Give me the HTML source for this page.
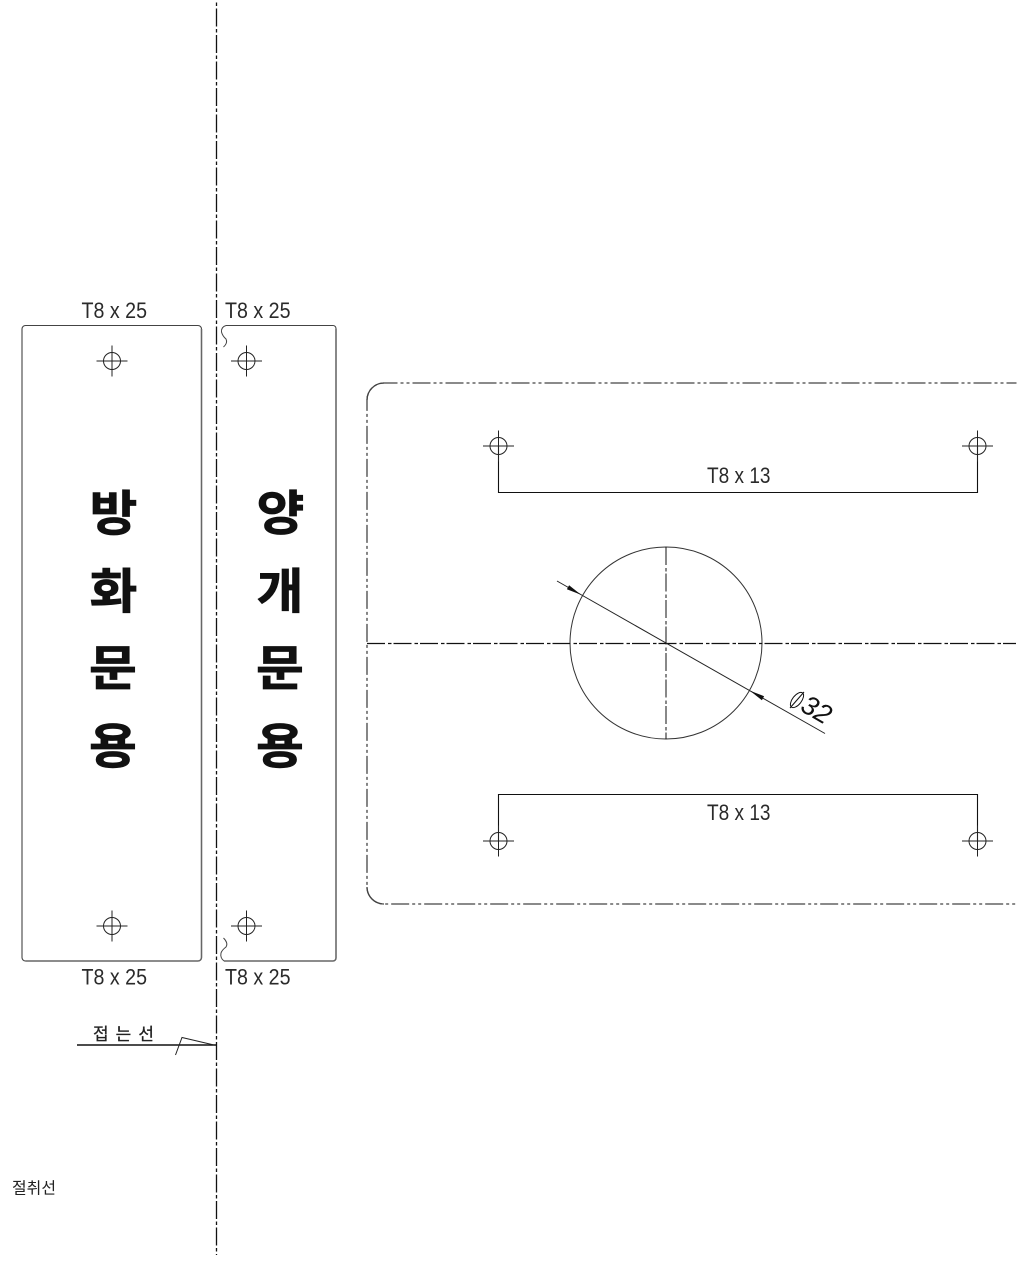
<!DOCTYPE html>
<html lang="ko">
<head>
<meta charset="utf-8">
<style>
html,body{margin:0;padding:0;background:#fff}
svg{display:block}
.t{font-family:"Liberation Sans",sans-serif;font-size:22px;fill:#2a2a2a}
.k{font-family:"Liberation Sans","Noto Sans CJK KR",sans-serif;font-size:48px;font-weight:700;fill:#111;stroke:#111;stroke-width:.8;text-anchor:middle}
</style>
</head>
<body>
<svg width="1024" height="1262" viewBox="0 0 1024 1262" xmlns="http://www.w3.org/2000/svg" fill="none">
<defs>
<g id="c" stroke="#222" stroke-width="1">
<circle cx="0" cy="0" r="8.5"/>
<path d="M-15.500 0H15.500M0 -15.500V15.500"/>
</g>
</defs>
<!-- fold line -->
<path d="M216.500 0V1255" stroke="#111" stroke-width="1.300" stroke-dasharray="18 2.500 3.500 2.500" stroke-dashoffset="18"/>
<!-- left plate -->
<rect x="22" y="325.500" width="179.500" height="635.500" rx="3.500" stroke="#444" stroke-width="1.100"/>
<path d="M201.500 329V957.500a3.500 3.500 0 0 1 -3.500 3.500H25.500" stroke="#666" stroke-width="1.500"/>
<!-- right plate -->
<path d="M226 325.500H333a3 3 0 0 1 3 3V958a3 3 0 0 1 -3 3H224" stroke="#444" stroke-width="1.100"/>
<path d="M336 329V958a3 3 0 0 1 -3 3H224" stroke="#666" stroke-width="1.500"/>
<path d="M226 325.500Q221 327 221.500 332Q222.500 336 226 339Q228 343 223.500 347" stroke="#444" stroke-width="1"/>
<path d="M224 961Q220 958 221 953Q222 950 226 947Q228.500 943 223.500 938" stroke="#444" stroke-width="1"/>
<use href="#c" x="112" y="361"/>
<use href="#c" x="246.500" y="361"/>
<use href="#c" x="112" y="926"/>
<use href="#c" x="246.500" y="926"/>
<text class="t" x="81.500" y="318" textLength="65.500" lengthAdjust="spacingAndGlyphs">T8 x 25</text>
<text class="t" x="225" y="318" textLength="65.500" lengthAdjust="spacingAndGlyphs">T8 x 25</text>
<text class="t" x="81.500" y="984.500" textLength="65.500" lengthAdjust="spacingAndGlyphs">T8 x 25</text>
<text class="t" x="225" y="984.500" textLength="65.500" lengthAdjust="spacingAndGlyphs">T8 x 25</text>
<!-- large Korean text -->
<text class="k" transform="translate(113.500 530) scale(1.080 1)">방</text>
<text class="k" transform="translate(113.500 608) scale(1.080 1)">화</text>
<text class="k" transform="translate(113 685) scale(1.080 1)">문</text>
<text class="k" transform="translate(113 763) scale(1.080 1)">용</text>
<text class="k" transform="translate(280.500 530) scale(1.080 1)">양</text>
<text class="k" transform="translate(280 608) scale(1.060 1)">개</text>
<text class="k" transform="translate(280 685) scale(1.080 1)">문</text>
<text class="k" transform="translate(280 763) scale(1.080 1)">용</text>
<!-- fold label -->
<text x="93" y="1040" textLength="61" style="font-family:'Liberation Sans','Noto Sans CJK KR',sans-serif;font-size:17px;fill:#222;stroke:#222;stroke-width:.3">접 는 선</text>
<path d="M77 1045H216.500" stroke="#111" stroke-width="1.500"/>
<path d="M175.500 1055L182 1037.500L214 1045" stroke="#222" stroke-width="1"/>
<text x="12" y="1193.500" textLength="44" lengthAdjust="spacingAndGlyphs" style="font-family:'Liberation Sans','Noto Sans CJK KR',sans-serif;font-size:16px;fill:#222">절취선</text>
<!-- right drawing outline -->
<path d="M1016.500 383H384a17 17 0 0 0 -17 17V887a17 17 0 0 0 17 17H1016.500" stroke="#444" stroke-width="1.300" stroke-dasharray="18 3 3 3 3 3" stroke-dashoffset="8"/>
<path d="M384 383a17 17 0 0 0 -17 17M367 887a17 17 0 0 0 17 17" stroke="#444" stroke-width="1.300"/>
<!-- brackets -->
<path d="M498.500 446V492.500H977.500V446" stroke="#111" stroke-width="1.100"/>
<path d="M498.500 841V794.500H977.500V841" stroke="#111" stroke-width="1.100"/>
<use href="#c" x="498.500" y="446"/>
<use href="#c" x="977.500" y="446"/>
<use href="#c" x="498.500" y="841"/>
<use href="#c" x="977.500" y="841"/>
<text class="t" x="707" y="483" textLength="63.500" lengthAdjust="spacingAndGlyphs">T8 x 13</text>
<text class="t" x="707" y="820" textLength="63.500" lengthAdjust="spacingAndGlyphs">T8 x 13</text>
<!-- circle -->
<circle cx="666" cy="643" r="96" stroke="#333" stroke-width="1"/>
<path d="M367 643.500H1016" stroke="#111" stroke-width="1.200" stroke-dasharray="18 3 3.500 2"/>
<path d="M666 547V739" stroke="#111" stroke-width="1" stroke-dasharray="18 3 3.500 2"/>
<path d="M557 581L825 733.500" stroke="#222" stroke-width="1"/>
<path d="M581 594.700L566.900 589.300L569.100 585.300Z" fill="#111"/>
<path d="M750 690.800L761.900 700.200L764.100 696.200Z" fill="#111"/>
<g transform="translate(799 710) rotate(30)">
<text x="0" y="0" style="font-family:'Liberation Sans',sans-serif;font-style:italic;font-size:27px;fill:#111">32</text>
</g>
<g transform="translate(797 700) rotate(38)" stroke="#111" stroke-width="1">
<ellipse cx="0" cy="0" rx="4.500" ry="9"/>
</g>
<path d="M790 708L804 692" stroke="#111" stroke-width="1"/>
</svg>
</body>
</html>
